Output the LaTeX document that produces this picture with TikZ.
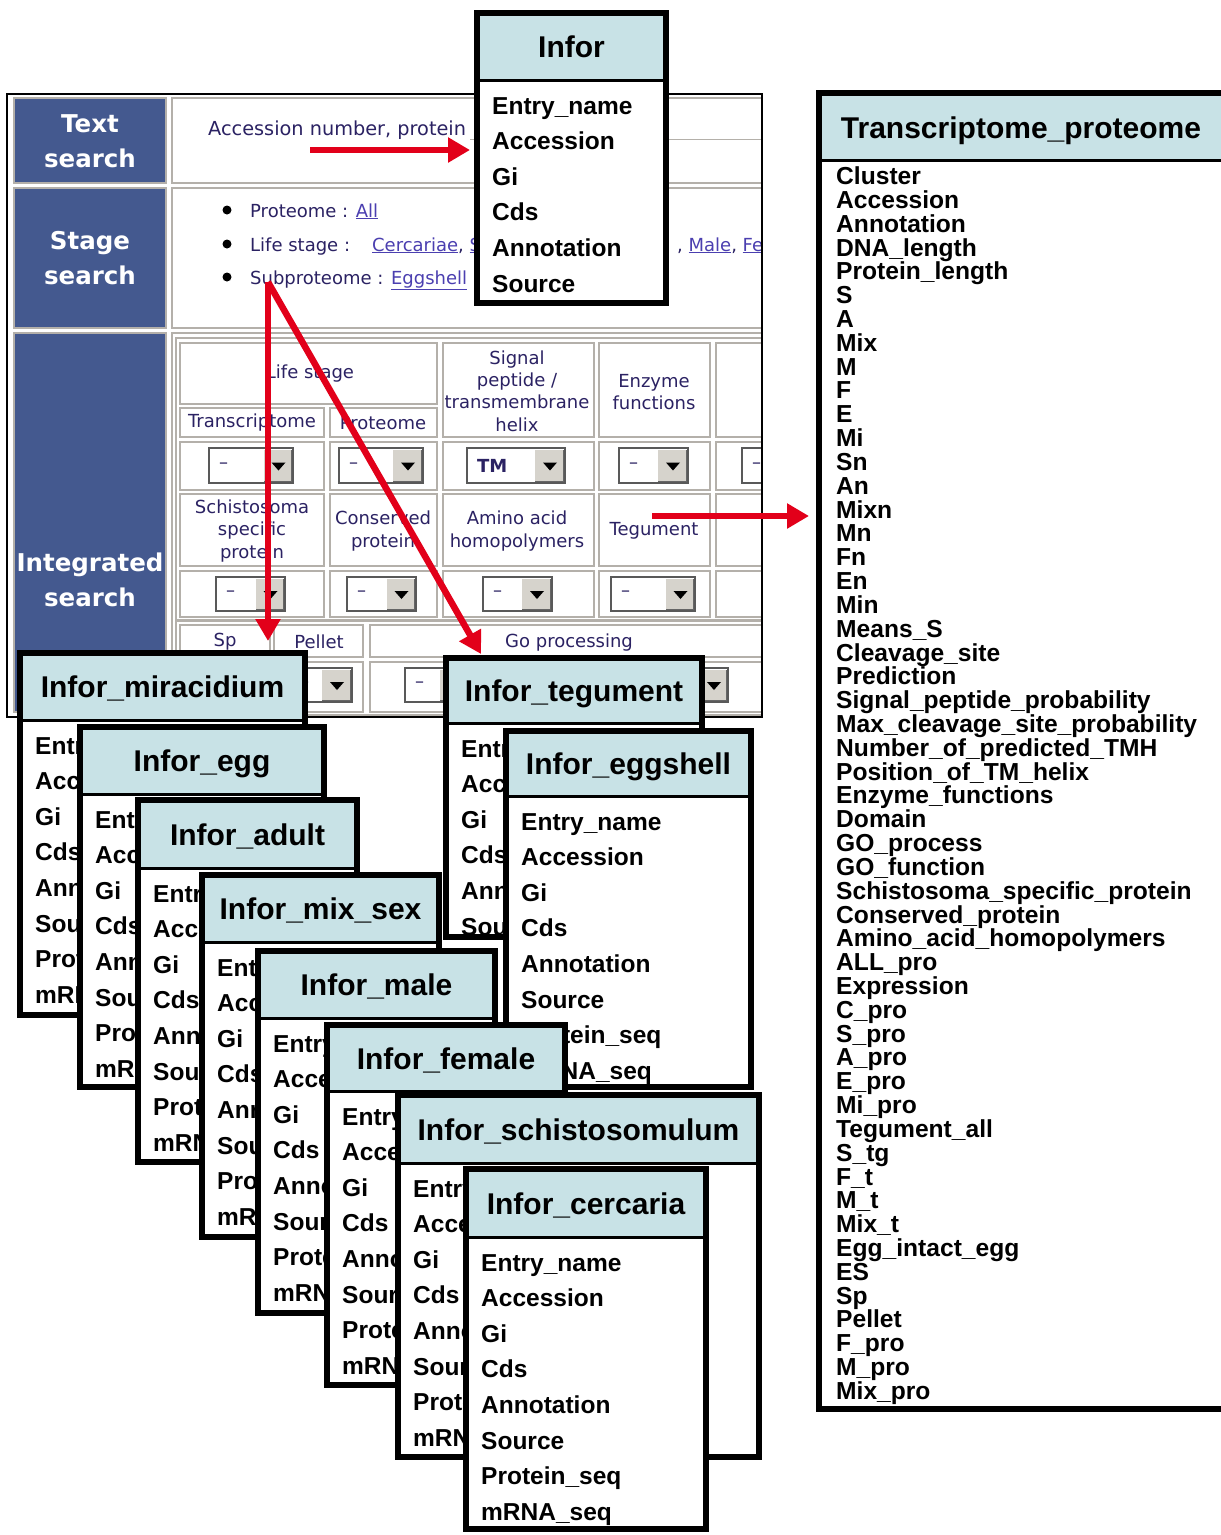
\documentclass[tikz,border=0pt]{standalone}
\usepackage{fontspec}
\setmainfont{Liberation Sans}
\newfontfamily\scrfont{DejaVu Sans}
\usetikzlibrary{arrows.meta,calc}

\definecolor{hdblue}{HTML}{C8E2E6}
\definecolor{navycell}{HTML}{44598F}
\definecolor{scrtxt}{HTML}{2B2263}
\definecolor{linkc}{HTML}{4B3FB0}
\definecolor{arrowred}{HTML}{E2001A}
\definecolor{cellgray}{HTML}{B4B0AA}
\definecolor{btngray}{HTML}{D6D3CC}

\tikzset{
  cell/.style={draw=cellgray, line width=1.5pt, fill=white},
  navybox/.style={fill=navycell, draw=cellgray, line width=1.5pt},
  navylabel/.style={text=white, font=\scrfont\bfseries\fontsize{24.5}{35}\selectfont, align=center, inner sep=0pt},
  scr/.style={text=scrtxt, font=\scrfont\fontsize{18}{22.4}\selectfont, inner sep=0pt, align=center},
  tbltitle/.style={font=\bfseries\fontsize{30}{32}\selectfont, anchor=base, inner sep=0pt},
  tblrow/.style={font=\bfseries\fontsize{24.5}{26}\selectfont, anchor=base west, inner sep=0pt},
  tprow/.style={font=\bfseries\fontsize{24.6}{24}\selectfont, anchor=base west, inner sep=0pt},
  redarrow/.style={draw=arrowred, line width=6.5pt, -{Triangle[length=22pt,width=24pt]}},
  ddframe/.style={draw=black!65, line width=1.5pt, fill=white},
}

\newcommand{\lnk}[1]{\textcolor{linkc}{\underline{#1}}}

% name, x1, y1, x2, y2, button x, text
\newcommand{\dropbox}[7]{%
  \draw[ddframe] (#2,#3) rectangle (#4,#5);
  \fill[btngray] (#6,#3+2) rectangle (#4-2,#5-2);
  \draw[black!60, line width=1pt] (#6,#5-2) -- (#4-2,#5-2) -- (#4-2,#3+2);
  \fill ({(#6+#4)/2-7},{(#3+#5)/2-3}) -- ++(14,0) -- ++(-7,8) -- cycle;
  \node[scr, anchor=west] (#1) at ({#2+10},{(#3+#5)/2}) {#7};
}

% name, x, y, width, height, header height, title, fields
\newcommand{\infortable}[8]{%
  \fill[white] (#2,#3) rectangle ++(#4,#5);
  \fill[hdblue] (#2,#3) rectangle ++(#4,#6);
  \draw[line width=3pt] (#2,#3+#6) -- ++(#4,0);
  \node[draw, line width=6pt, inner sep=0pt, outer sep=0pt, minimum width=#4pt,
        minimum height=#5pt, anchor=north west] (#1) at (#2,#3) {};
  \node[tbltitle] (#1-title) at ({#2+#4/2},{#3+#6/2+11}) {#7};
  \foreach \fld [count=\i] in #8
    \node[tblrow] (#1-\i) at (#2+15,{#3+#6+34+35.6*(\i-1)}) {\fld};
}

\newcommand{\shortrows}{Entry\_name,Accession,Gi,Cds,Annotation,Source}
\newcommand{\longrows}{Entry\_name,Accession,Gi,Cds,Annotation,Source,Protein\_seq,mRNA\_seq}
\newcommand{\tplist}{Cluster,Accession,Annotation,DNA\_length,Protein\_length,S,A,Mix,M,F,E,Mi,Sn,An,Mixn,Mn,Fn,En,Min,Means\_S,Cleavage\_site,Prediction,Signal\_peptide\_probability,Max\_cleavage\_site\_probability,Number\_of\_predicted\_TMH,Position\_of\_TM\_helix,Enzyme\_functions,Domain,GO\_process,GO\_function,Schistosoma\_specific\_protein,Conserved\_protein,Amino\_acid\_homopolymers,ALL\_pro,Expression,C\_pro,S\_pro,A\_pro,E\_pro,Mi\_pro,Tegument\_all,S\_tg,F\_t,M\_t,Mix\_t,Egg\_intact\_egg,ES,Sp,Pellet,F\_pro,M\_pro,Mix\_pro}

\begin{document}
\begin{tikzpicture}[x=1pt, y=-1pt]
  \useasboundingbox[fill=white] (0,0) rectangle (1221,1535);

  % Search page screenshot
  \fill[white] (7,94) rectangle (762,717);
  \begin{scope}
    \clip (7,94) rectangle (762,717);
    \draw[navybox] (14,98) rectangle (166,183);
    \draw[navybox] (14,188) rectangle (166,328);
    \draw[navybox] (14,333) rectangle (166,712);
    \node[navylabel] (lbl-text) at (90,141) {Text\\search};
    \node[navylabel] (lbl-stage) at (90,258) {Stage\\search};
    \node[navylabel] (lbl-int) at (90,580) {Integrated\\search};

    \draw[cell] (172,98) rectangle (770,183);
    \draw[cell] (172,188) rectangle (770,328);
    \draw[cell] (172,333) rectangle (770,712);

    \node[scr, anchor=base west, font=\scrfont\fontsize{19.3}{22}\selectfont] (acc-txt) at (208,135) {Accession number, protein};
    \draw[cellgray, line width=1pt] (470,139) -- (770,139);

    \foreach \yy in {210,244,277}
      \fill (227,\yy) circle (4.5pt);
    \node[scr, anchor=base west] (st-prot) at (250,217) {Proteome : \lnk{All}};
    \node[scr, anchor=base west] (st-life) at (250,251) {Life stage :\hspace{22pt}\lnk{Cercariae}, \lnk{S}};
    \node[scr, anchor=base west] (st-life2) at (677,251) {, \lnk{Male}, \lnk{Fe}};
    \node[scr, anchor=base west] (st-sub) at (250,284) {Subproteome : \lnk{Eggshell}};

    % integrated search table
    \draw[cell] (176,338) rectangle (770,620);
    \draw[cell] (180,343) rectangle (437,404);
    \draw[cell] (443,343) rectangle (594,437);
    \draw[cell] (599,343) rectangle (710,437);
    \draw[cell] (716,343) rectangle (790,437);
    \draw[cell] (180,408) rectangle (324,437);
    \draw[cell] (330,408) rectangle (437,437);
    \node[scr] (c-ls) at (310,374) {Life stage};
    \node[scr] (c-sp) at (517,391) {Signal\\peptide /\\transmembrane\\helix};
    \node[scr] (c-ef) at (654,392) {Enzyme\\functions};
    \node[scr] (c-tr) at (252,423) {Transcriptome};
    \node[scr] (c-pr) at (383,423) {Proteome};
    \foreach \xa/\xb in {180/324,330/437,443/594,599/710,716/790} {
      \draw[cell] (\xa,442) rectangle (\xb,490);
      \draw[cell] (\xa,494) rectangle (\xb,566);
      \draw[cell] (\xa,571) rectangle (\xb,617);
    }
    \node[scr] (c-ssp) at (252,531) {Schistosoma\\specific\\protein};
    \node[scr] (c-cp) at (383,531) {Conserved\\protein};
    \node[scr] (c-aa) at (517,531) {Amino acid\\homopolymers};
    \node[scr] (c-tg) at (654,531) {Tegument};
    \dropbox{dd-tr}{209}{448}{293}{483}{264}{\textendash}
    \dropbox{dd-pr}{339}{448}{423}{483}{393}{\textendash}
    \dropbox{dd-sp}{467}{448}{565}{483}{535}{\textbf{TM}}
    \dropbox{dd-ef}{619}{448}{688}{483}{658}{\textendash}
    \dropbox{dd-x}{742}{448}{820}{483}{790}{\textendash}
    \dropbox{dd-ssp}{216}{577}{285}{611}{256}{\textendash}
    \dropbox{dd-cp}{347}{577}{416}{611}{387}{\textendash}
    \dropbox{dd-aa}{483}{577}{552}{611}{522}{\textendash}
    \dropbox{dd-tg}{611}{577}{695}{611}{666}{\textendash}

    \draw[cell] (176,621) rectangle (770,715);
    \draw[cell] (180,625) rectangle (270,657);
    \draw[cell] (274,625) rectangle (363,657);
    \draw[cell] (370,625) rectangle (790,657);
    \draw[cell] (180,662) rectangle (363,712);
    \draw[cell] (370,662) rectangle (790,712);
    \node[scr] (c-spel) at (225,642) {Sp};
    \node[scr] (c-pel) at (319,642) {Pellet};
    \node[scr] (c-go) at (569,643) {Go processing};
    \dropbox{dd-pel}{290}{668}{352}{702}{322}{\textendash}
    \dropbox{dd-go}{405}{668}{470}{702}{440}{\textendash}
    \dropbox{dd-go2}{640}{668}{728}{702}{700}{\textendash}
  \end{scope}
  \draw[line width=1.5pt] (7,94) rectangle (762,717);

  % Tables
  \infortable{infor}{477}{13}{189}{290}{67}{Infor}{\shortrows}

  \fill[white] (819,93) rectangle (1240,1409);
  \fill[hdblue] (819,93) rectangle (1240,160);
  \draw[line width=3pt] (819,160) -- (1240,160);
  \node[draw, line width=6pt, inner sep=0pt, outer sep=0pt, minimum width=421pt,
        minimum height=1316pt, anchor=north west] (tp) at (819,93) {};
  \node[tbltitle] (tp-title) at (1021,138) {Transcriptome\_proteome};
  \foreach \fld [count=\i] in \tplist
    \node[tprow] (tp-\i) at (836,{184.6+23.82*(\i-1)}) {\fld};

  \infortable{mir}{20}{653}{285}{362}{67}{Infor\_miracidium}{\longrows}
  \infortable{egg}{80}{727}{244}{360}{67}{Infor\_egg}{\longrows}
  \infortable{adult}{138}{800}{219}{362}{68}{Infor\_adult}{\longrows}
  \infortable{mixsex}{202}{875}{237}{362}{67}{Infor\_mix\_sex}{\longrows}
  \infortable{male}{258}{951}{237}{362}{67}{Infor\_male}{\longrows}
  \infortable{teg}{446}{658}{256}{279}{65}{Infor\_tegument}{\shortrows}
  \infortable{eggshell}{506}{731}{245}{356}{65}{Infor\_eggshell}{\longrows}
  \infortable{female}{327}{1025}{238}{360}{66}{Infor\_female}{\longrows}
  \infortable{schisto}{398}{1095}{361}{362}{68}{Infor\_schistosomulum}{\longrows}
  \infortable{cerc}{466}{1169}{240}{360}{68}{Infor\_cercaria}{\longrows}

  % Arrows
  \coordinate (a1s) at (310,150);
  \coordinate (a2s) at (268,282);
  \coordinate (a4s) at (652,516);
  \draw[redarrow, shorten >=7pt] (a1s) -- (a1s -| infor.west);
  \draw[redarrow, shorten >=12pt] (a2s) -- (a2s |- mir.north);
  \draw[redarrow] (a2s) -- ($(teg.north west)+(35,-4)$);
  \draw[redarrow, shorten >=10pt] (a4s) -- (a4s -| tp.west);
\end{tikzpicture}
\end{document}
